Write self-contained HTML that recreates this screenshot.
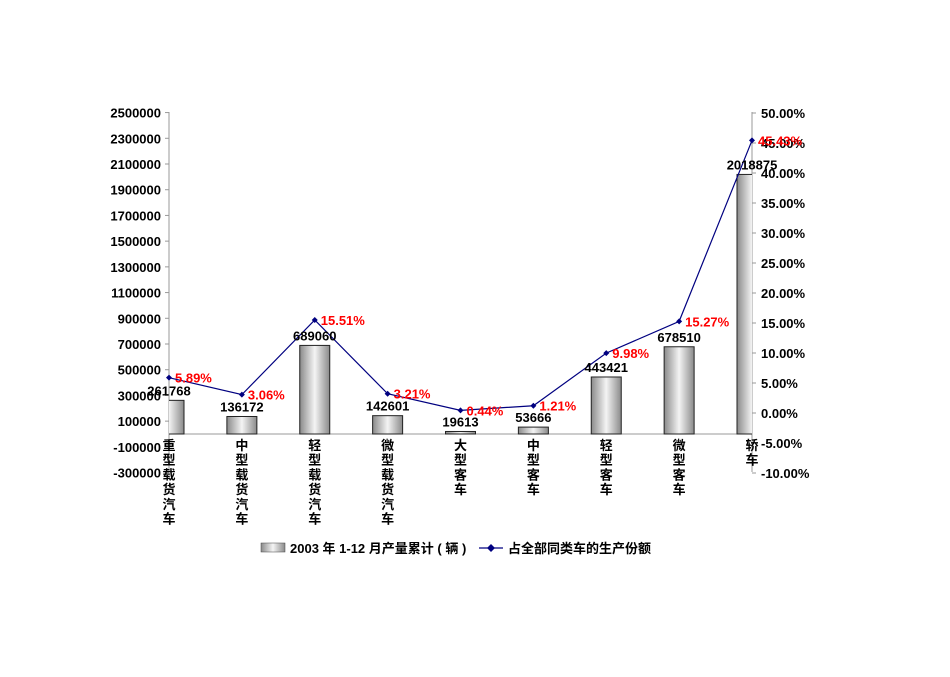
<!DOCTYPE html>
<html><head><meta charset="utf-8"><style>
body{margin:0;background:#fff;width:950px;height:672px;overflow:hidden}
text{font-family:"Liberation Sans","Noto Sans CJK SC",sans-serif;font-weight:bold}
</style></head><body>
<svg id="chart" width="950" height="672" xmlns="http://www.w3.org/2000/svg">
<defs>
<linearGradient id="barGrad" x1="0" x2="1" y1="0" y2="0">
<stop offset="0" stop-color="#8a8a8a"/><stop offset="0.5" stop-color="#f4f4f4"/><stop offset="1" stop-color="#8a8a8a"/>
</linearGradient>
<clipPath id="plotClip"><rect x="169" y="100" width="583" height="380"/></clipPath>
</defs>
<g id="axes"></g>
<g id="bars" clip-path="url(#plotClip)"></g>
<g id="line"></g>
<g id="labels"></g>
<g id="legend">
<rect x="261" y="543" width="24" height="9" fill="url(#barGrad)" stroke="#444" stroke-width="0.5"/>
<text x="290" y="553" font-size="13">2003 年 1-12 月产量累计 ( 辆 )</text>
<line x1="479" y1="548" x2="503" y2="548" stroke="#000080" stroke-width="1.2"/>
<path d="M491 544 L495 548 L491 552 L487 548 Z" fill="#000080"/>
<text x="508" y="553" font-size="13">占全部同类车的生产份额</text>
</g>
</svg>
<script>
const categories=["重型载货汽车","中型载货汽车","轻型载货汽车","微型载货汽车","大型客车","中型客车","轻型客车","微型客车","轿车"];
const volumes=[261768,136172,689060,142601,19613,53666,443421,678510,2018875];
const shares=[5.89,3.06,15.51,3.21,0.44,1.21,9.98,15.27,45.43];
const leftTicks=[2500000,2300000,2100000,1900000,1700000,1500000,1300000,1100000,900000,700000,500000,300000,100000,-100000,-300000];
const rightTicks=[50,45,40,35,30,25,20,15,10,5,0,-5,-10];
const NS="http://www.w3.org/2000/svg";
const X0=169,X1=752;
function yL(v){return 434-v/200000*25.714;}
function yR(p){return 413-p*6;}
function xC(i){return X0+i*(X1-X0)/(categories.length-1);}
function mk(tag,attrs,parent,txt){const e=document.createElementNS(NS,tag);for(const k in attrs)e.setAttribute(k,attrs[k]);if(txt!==undefined)e.textContent=txt;document.getElementById(parent).appendChild(e);return e;}
// axes
let a=mk('line',{x1:X0,y1:112,x2:X0,y2:472,stroke:'#999'},'axes');

a=mk('line',{x1:X1,y1:112,x2:X1,y2:472,stroke:'#999'},'axes');

a=mk('line',{x1:X0,y1:434,x2:X1,y2:434,stroke:'#999'},'axes');

leftTicks.forEach(v=>{const y=yL(v);
mk('line',{x1:X0-4,y1:y,x2:X0,y2:y,stroke:'#999'},'axes');
const t=mk('text',{x:161,y:y+5,'font-size':13,'text-anchor':'end'},'axes',String(v));
});
rightTicks.forEach(p=>{const y=yR(p);
mk('line',{x1:X1,y1:y,x2:X1+4,y2:y,stroke:'#999'},'axes');
const t=mk('text',{x:761,y:y+5,'font-size':13},'axes',p.toFixed(2)+'%');
});
categories.forEach((c,i)=>{const t=mk('text',{x:xC(i),y:450,'font-size':13,'text-anchor':'middle'},'axes');

[...c].forEach((ch,k)=>{mk('tspan',{x:xC(i),y:450+k*14.7},'axes',ch);t.appendChild(t.ownerDocument.getElementById('axes').lastChild);});});
// bars
volumes.forEach((v,i)=>{const y=yL(v);
const b=mk('rect',{x:xC(i)-15,y:y,width:30,height:434-y,fill:'url(#barGrad)',stroke:'#222','stroke-width':1},'bars');

const t=mk('text',{x:xC(i),y:y-5,'font-size':13,'text-anchor':'middle'},'labels',String(v));
});
// line
const pl=mk('polyline',{points:shares.map((p,i)=>xC(i)+','+yR(p)).join(' '),fill:'none',stroke:'#000080','stroke-width':1.2},'line');

shares.forEach((p,i)=>{const x=xC(i),y=yR(p);
const m=mk('path',{d:`M${x} ${y-3}L${x+3} ${y}L${x} ${y+3}L${x-3} ${y}Z`,fill:'#000080'},'line');

const t=mk('text',{x:x+6,y:y+5,'font-size':13,fill:'#ff0000'},'labels',p.toFixed(2)+'%');
});
</script>
</body></html>
